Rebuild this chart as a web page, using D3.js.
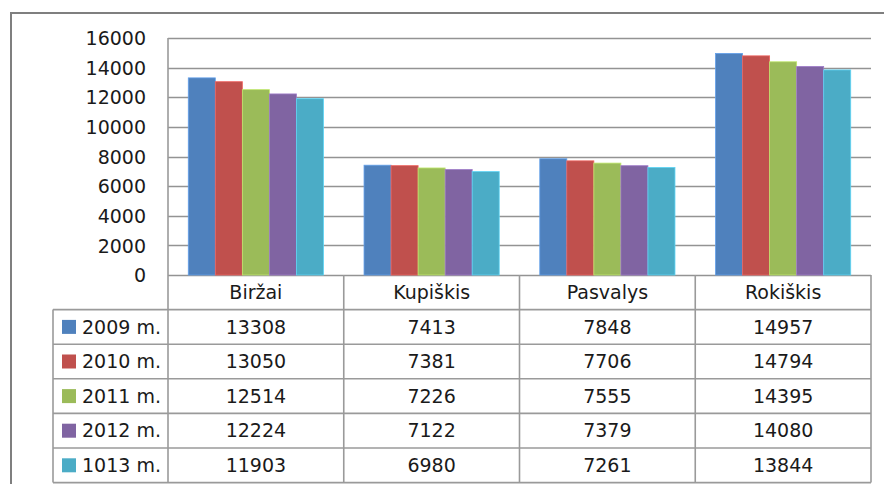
<!DOCTYPE html>
<html><head><meta charset="utf-8">
<script src="https://cdn.jsdelivr.net/npm/d3@7/dist/d3.min.js"></script>
<style>body{margin:0;background:#fff}svg{display:block}text{font-family:"DejaVu Sans",sans-serif;fill:#1a1a1a}</style>
</head><body><svg id="c" width="884" height="484"></svg>
<script>
const categories = ["Biržai", "Kupiškis", "Pasvalys", "Rokiškis"];
const seriesNames = ["2009 m.", "2010 m.", "2011 m.", "2012 m.", "1013 m."];
const v2009 = [13308, 7413, 7848, 14957];
const v2010 = [13050, 7381, 7706, 14794];
const v2011 = [12514, 7226, 7555, 14395];
const v2012 = [12224, 7122, 7379, 14080];
const v2013 = [11903, 6980, 7261, 13844];
const yTicks = [0, 2000, 4000, 6000, 8000, 10000, 12000, 14000, 16000];
const colors = ["#4F81BD", "#C0504D", "#9BBB59", "#8064A2", "#4BACC6"];
const seriesValues = [v2009, v2010, v2011, v2012, v2013];

const svg = d3.select("#c");
const L = 168, R = 871, T = 38, B = 275;
const tableTop = 275, rowH = 34.6, legendLeft = 53;

// outer frame
svg.append("rect").attr("x", 11).attr("y", 13).attr("width", 900).attr("height", 520)
  .attr("fill", "none").attr("stroke", "#7f7f7f").attr("stroke-width", 2);

const y = d3.scaleLinear().domain([0, 16000]).range([B, T]);
const x0 = d3.scaleBand().domain(categories).range([L, R]).paddingInner(0).paddingOuter(0);
const x1 = d3.scaleBand().domain(seriesNames).range([0, x0.bandwidth()]).paddingOuter(0.75 * 0 + 0).padding(0);
// gap width 150%: 6.5 bar units per category
const barW = x0.bandwidth() / 6.5;
x1.range([0.75 * barW, x0.bandwidth() - 0.75 * barW]);

// gridlines
svg.append("g").selectAll("line").data(yTicks).join("line")
  .attr("x1", L).attr("x2", R).attr("y1", d => Math.round(y(d)) + 0.5).attr("y2", d => Math.round(y(d)) + 0.5)
  .attr("stroke", "#939393").attr("stroke-width", 1.6);

// y labels
const yAxis = d3.axisLeft(y).tickValues(yTicks).tickSize(0).tickPadding(0).tickFormat(d3.format("d"));
const ga = svg.append("g").attr("transform", `translate(146,0)`).call(yAxis);
ga.select(".domain").remove();
ga.selectAll("text").attr("font-size", 19).attr("font-family", "DejaVu Sans").attr("fill", "#1a1a1a").attr("dy", "0.35em");

// bars
const g = svg.append("g");
categories.forEach((c, ci) => {
  seriesNames.forEach((s, si) => {
    const v = seriesValues[si][ci];
    g.append("rect")
      .attr("x", x0(c) + x1(s)).attr("y", y(v))
      .attr("width", x1.bandwidth()).attr("height", y(0) - y(v))
      .attr("fill", colors[si]).attr("stroke", d3.color(colors[si]).brighter(0.6)).attr("stroke-width", 0.8);
  });
});

// table
const tg = svg.append("g");
const lineC = "#9a9a9a", lw = 1.6;
const nRows = seriesNames.length;
const tableBottom = tableTop + rowH * (nRows + 1);
// vertical lines at category boundaries
const colEdges = categories.map(c => x0(c)).concat([R]);
colEdges.forEach((xe, i) => {
  tg.append("line").attr("x1", xe).attr("x2", xe)
    .attr("y1", i === 0 ? T : tableTop).attr("y2", tableBottom).attr("stroke", lineC).attr("stroke-width", lw);
});
// legend column left edge
tg.append("line").attr("x1", legendLeft).attr("x2", legendLeft).attr("y1", tableTop + rowH).attr("y2", tableBottom)
  .attr("stroke", lineC).attr("stroke-width", lw);
// horizontal lines
for (let r = 1; r <= nRows + 1; r++) {
  tg.append("line").attr("x1", legendLeft).attr("x2", R)
    .attr("y1", tableTop + rowH * r).attr("y2", tableTop + rowH * r).attr("stroke", lineC).attr("stroke-width", lw);
}
// header labels
categories.forEach(c => {
  tg.append("text").attr("x", x0(c) + x0.bandwidth() / 2).attr("y", tableTop + rowH / 2)
    .attr("dy", "0.35em").attr("text-anchor", "middle").attr("font-size", 19).text(c);
});
// rows
seriesNames.forEach((s, si) => {
  const cy = tableTop + rowH * (si + 1) + rowH / 2;
  tg.append("rect").attr("x", 62).attr("y", cy - 7).attr("width", 14).attr("height", 14).attr("fill", colors[si]);
  tg.append("text").attr("x", 82).attr("y", cy).attr("dy", "0.35em").attr("font-size", 19).text(s);
  categories.forEach((c, ci) => {
    tg.append("text").attr("x", x0(c) + x0.bandwidth() / 2).attr("y", cy).attr("dy", "0.35em")
      .attr("text-anchor", "middle").attr("font-size", 19).text(seriesValues[si][ci]);
  });
});
</script></body></html>
